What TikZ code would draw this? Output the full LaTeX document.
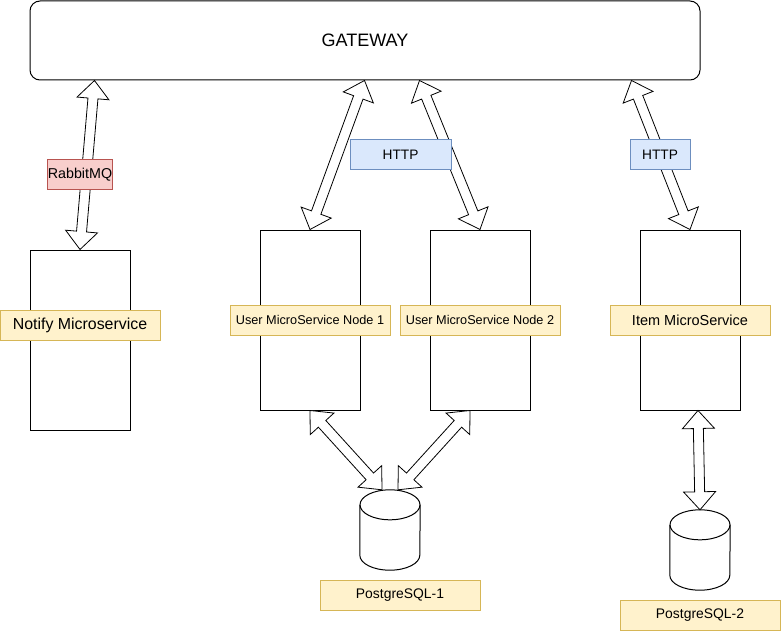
\documentclass[tikz,border=0pt]{standalone}
\usepackage{fontspec}
\setmainfont{Liberation Sans}
\usetikzlibrary{calc}
\definecolor{ylwF}{HTML}{FFF2CC}\definecolor{ylwD}{HTML}{D6B656}
\definecolor{bluF}{HTML}{DAE8FC}\definecolor{bluD}{HTML}{6C8EBF}
\definecolor{redF}{HTML}{F8CECC}\definecolor{redD}{HTML}{B85450}
\newcommand\fsz[1]{\fontsize{#1}{#1}\selectfont}
\newcommand\flexar[2]{%
 \draw[flexarr] let \p1=($(#2)-(#1)$), \n1={atan2(\y1,\x1)}, \n2={veclen(\x1,\y1)} in
 (#1) -- ($(#1)+({\n1}:18pt)+({\n1+90}:16pt)$) -- ($(#1)+({\n1}:18pt)+({\n1+90}:5pt)$)
 -- ($(#1)+({\n1}:{\n2-18pt})+({\n1+90}:5pt)$) -- ($(#1)+({\n1}:{\n2-18pt})+({\n1+90}:16pt)$)
 -- (#2)
 -- ($(#1)+({\n1}:{\n2-18pt})+({\n1-90}:16pt)$) -- ($(#1)+({\n1}:{\n2-18pt})+({\n1-90}:5pt)$)
 -- ($(#1)+({\n1}:18pt)+({\n1-90}:5pt)$) -- ($(#1)+({\n1}:18pt)+({\n1-90}:16pt)$) -- cycle;}
\newcommand\cylsh[1]{%
 \draw[line width=1pt] ($(#1.north west)+(0,15)$) -- ($(#1.south west)+(0,-15)$)
   arc[start angle=180,end angle=0,x radius=30,y radius=15] -- ($(#1.north east)+(0,15)$);
 \draw[line width=1pt] ($(#1.north)+(0,15)$) ellipse[x radius=30,y radius=15];}
\begin{document}
\begin{tikzpicture}[x=1pt,y=-1pt,
 svc/.style={draw,line width=1pt,rectangle,inner sep=0,minimum width=100,minimum height=180},
 ylab/.style={draw=ylwD,fill=ylwF,line width=1pt,inner sep=0,minimum width=160,minimum height=30},
 blab/.style={draw=bluD,fill=bluF,line width=1pt,inner sep=0,minimum height=30},
 rlab/.style={draw=redD,fill=redF,line width=1pt,inner sep=0,minimum height=30},
 flexarr/.style={draw=black,fill=white,line width=0.8pt,line join=miter},
 dbsh/.style={inner sep=0,minimum width=60,minimum height=80}]
\useasboundingbox (0,0) rectangle (781,631);
\node[draw,line width=1pt,rounded corners=10,minimum width=670,minimum height=79,inner sep=0] (gw) at (365,40.5) {\fsz{18}GATEWAY};
\node[svc] (notify) at (80,340) {};
\node[svc] (user1) at (310,320) {};
\node[svc] (user2) at (480,320) {};
\node[svc] (item) at (690,320) {};
\node[dbsh] (db1) at (390,530) {};
\node[dbsh] (db2) at (700,550) {};
\cylsh{db1}
\cylsh{db2}
\coordinate (r1) at ([xshift=65]gw.south west);
\coordinate (h1) at ([xshift=335]gw.south west);
\coordinate (h2) at ([xshift=390]gw.south west);
\coordinate (h3) at ([xshift=602]gw.south west);
\coordinate (d1) at ([xshift=-8]db1.north);
\coordinate (d2) at ([xshift=8]db1.north);
\coordinate (u2s) at ([xshift=-10]user2.south);
\coordinate (its) at ([xshift=8]item.south);
\flexar{r1}{notify.north}
\flexar{h1}{user1.north}
\flexar{h2}{user2.north}
\flexar{h3}{item.north}
\flexar{user1.south}{d1}
\flexar{u2s}{d2}
\flexar{its}{db2.north}
\node[rlab,minimum width=60] (rmq) at (80,175) {\fsz{14.3}RabbitMQ};
\node[blab,minimum width=101] (http1) at (400.5,155) {\fsz{13.7}HTTP};
\node[blab,minimum width=60] (http2) at (660,155) {\fsz{13.7}HTTP};
\node[ylab] (notifyL) at (80,325) {\fsz{15.9}Notify Microservice};
\node[ylab] (user1L) at (310,320) {\fsz{12.7}User MicroService Node 1};
\node[ylab] (user2L) at (480,320) {\fsz{12.7}User MicroService Node 2};
\node[ylab] (itemL) at (690,320) {\fsz{14.5}Item MicroService};
\node[ylab] (pg1) at (400,595) {\fsz{13.9}PostgreSQL-1};
\node[ylab] (pg2) at (700,615) {\fsz{13.9}PostgreSQL-2};
\end{tikzpicture}
\end{document}
